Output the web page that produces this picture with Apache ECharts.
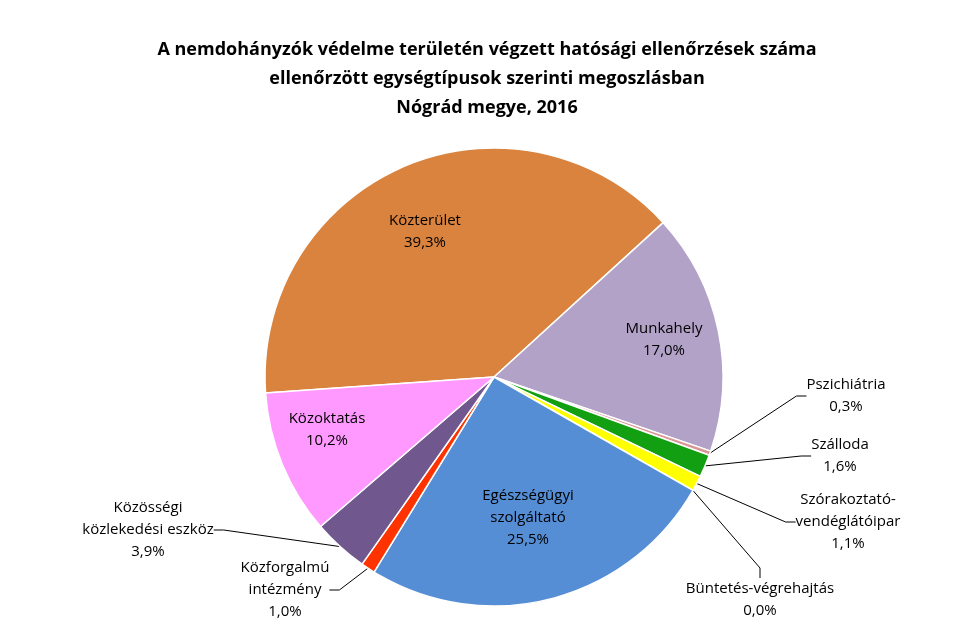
<!DOCTYPE html>
<html><head><meta charset="utf-8">
<script src="https://cdn.jsdelivr.net/npm/echarts@6/dist/echarts.min.js"></script>
<style>html,body{margin:0;padding:0;background:#fff}#c{width:974px;height:637px}</style>
</head><body><div id="c"></div>
<script>
const categories = ['Közterület', 'Munkahely', 'Pszichiátria', 'Szálloda', 'Szórakoztató-\nvendéglátóipar', 'Büntetés-végrehajtás', 'Egészségügyi\nszolgáltató', 'Közforgalmú\nintézmény', 'Közösségi\nközlekedési eszköz', 'Közoktatás']
const values = [39.3, 17.0, 0.3, 1.6, 1.1, 0.0, 25.5, 1.0, 3.9, 10.2]
const colors = ['#D9833E', '#B3A2C7', '#D99694', '#12A012', '#FFFF00', '#F2F2F2', '#558ED5', '#FF3300', '#70588F', '#FF99FF']
// label anchor points (layout only)
const labelPos = [[425, 232], [664, 340], [846, 396], [840, 456], [848, 522], [760, 600], [528, 518], [285, 590], [148, 530], [327, 430]]

const chart = echarts.init(document.getElementById('c'))
chart.setOption({
  animation: false,
  title: {
    text: 'A nemdohányzók védelme területén végzett hatósági ellenőrzések száma\nellenőrzött egységtípusok szerinti megoszlásban\nNógrád megye, 2016',
    left: 'center',
    top: 30,
    textStyle: { fontFamily: 'Open Sans', fontWeight: 'bold', fontSize: 18, lineHeight: 29, color: '#000' }
  },
  series: [{
    type: 'pie',
    center: [494, 377],
    radius: 229,
    startAngle: 184,
    clockwise: true,
    minShowLabelAngle: -1,
    itemStyle: { borderColor: '#fff', borderWidth: 1.5 },
    label: {
      show: true,
      formatter: p => p.name + '\n' + p.value.toFixed(1).replace('.', ',') + '%',
      fontFamily: 'Open Sans',
      fontSize: 15,
      lineHeight: 22,
      color: '#000',
      align: 'center'
    },
    labelLine: { show: true, length: 10, length2: 10, lineStyle: { color: '#000', width: 1 } },
    labelLayout: p => ({ x: labelPos[p.dataIndex][0], y: labelPos[p.dataIndex][1], align: 'center', verticalAlign: 'middle' }),
    data: categories.map((c, i) => ({
      name: c,
      value: values[i],
      itemStyle: { color: colors[i] },
      labelLine: { show: [2, 3, 4, 5, 7, 8].includes(i) }
    }))
  }]
})
</script></body></html>
